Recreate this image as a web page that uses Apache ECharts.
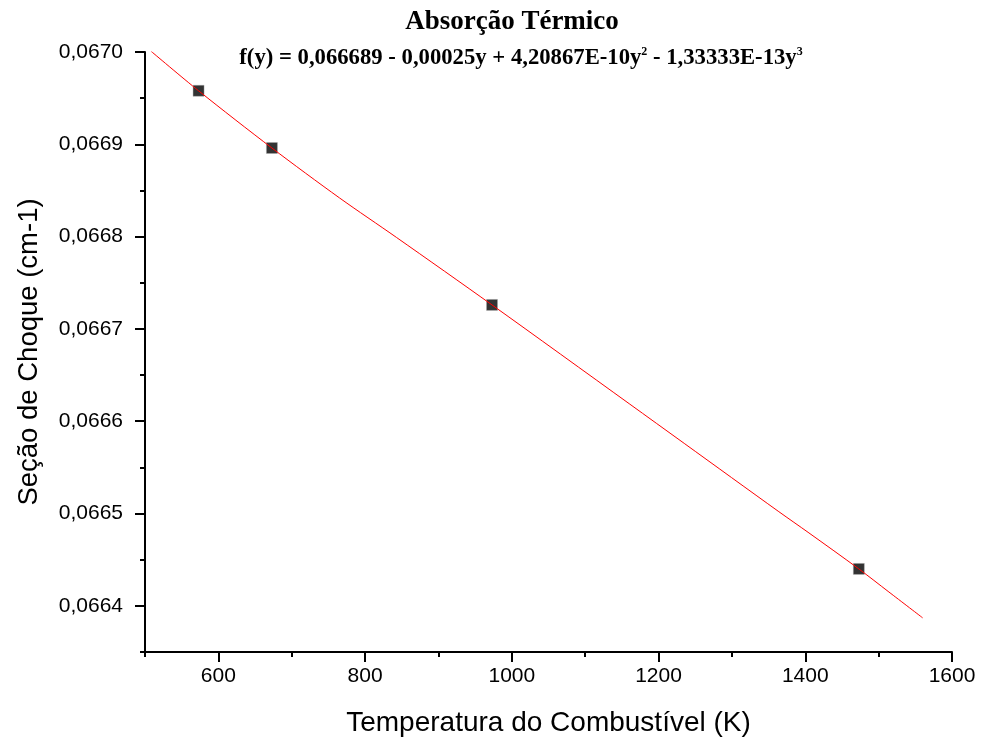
<!DOCTYPE html>
<html>
<head>
<meta charset="utf-8">
<script src="https://cdn.jsdelivr.net/npm/echarts@6/dist/echarts.min.js"></script>
<style>html,body{margin:0;padding:0;background:#fff}#c{width:981px;height:742px}</style>
</head>
<body>
<div id="c"></div>
<script>
// Measured points
var tempPoints = [573, 673, 973, 1473];
var sigmaPoints = [0.066958, 0.066896, 0.066726, 0.066440];
// Fitted curve
var fitTemp = [508, 573, 673, 765, 843, 973, 1160, 1235, 1364, 1405, 1473, 1514, 1560];
var fitSigma = [0.067001, 0.066958, 0.066896, 0.066842, 0.066799, 0.066726, 0.066619, 0.066576, 0.066502, 0.066479, 0.066440, 0.066415, 0.066387];
// Axes
var xMin = 500, xMax = 1600, xMinor = 100, xMajorStart = 600, xMajor = 200;
var yMin = 0.06635, yMax = 0.0670, yMinor = 0.00005, yMajorStart = 0.0664, yMajor = 0.0001;
var titleText = 'Absorção Térmico';
var eqText = 'f(y) = 0,066689 - 0,00025y + 4,20867E-10y{sup|2} - 1,33333E-13y{sup|3}';
var xName = 'Temperatura do Combustível (K)';
var yName = 'Seção de Choque (cm-1)';

var G = {left: 145, right: 29, top: 52, bottom: 90};
var plotW = 981 - G.left - G.right;
var plotH = 742 - G.top - G.bottom;
var g1Bottom = G.bottom + plotH * (yMajorStart - yMin) / (yMax - yMin);
var g2Left = G.left + plotW * (xMajorStart - xMin) / (xMax - xMin);

function pairs(a, b) { return a.map(function (v, i) { return [v, b[i]]; }); }

var sansFont = '"Liberation Sans", Arial, sans-serif';
var serifFont = '"Liberation Serif", "Times New Roman", serif';
var lineStyle = {color: '#000', width: 2};

var chart = echarts.init(document.getElementById('c'), null, {renderer: 'canvas'});
chart.setOption({
  backgroundColor: '#fff',
  animation: false,
  title: [
    {text: titleText, left: 507, top: 4, textAlign: 'center',
     textStyle: {fontFamily: serifFont, fontWeight: 'bold', fontSize: 27, color: '#000'}},
    {text: eqText, left: 516, top: 41, textAlign: 'center',
     textStyle: {fontFamily: serifFont, fontWeight: 'bold', fontSize: 22.7, color: '#000',
       rich: {sup: {fontFamily: serifFont, fontWeight: 'bold', fontSize: 12, verticalAlign: 'top', padding: [0, 0, 12, 0], color: '#000'}}}}
  ],
  grid: [
    {left: G.left, right: G.right, top: G.top, bottom: G.bottom},
    {left: G.left, right: G.right, top: G.top, bottom: g1Bottom},
    {left: g2Left, right: G.right, top: G.top, bottom: G.bottom}
  ],
  xAxis: [
    {type: 'value', gridIndex: 0, min: xMin, max: xMax, interval: xMinor,
     axisLine: {show: true, onZero: false, lineStyle: lineStyle},
     axisTick: {show: true, inside: false, length: 5, lineStyle: lineStyle},
     axisLabel: {show: false}, splitLine: {show: false},
     name: xName, nameLocation: 'middle', nameGap: 57,
     nameTextStyle: {fontFamily: sansFont, fontSize: 28, color: '#000'}},
    {type: 'value', gridIndex: 1, min: 0, max: 1, show: false},
    {type: 'value', gridIndex: 2, min: xMajorStart, max: xMax, interval: xMajor,
     axisLine: {show: false},
     axisTick: {show: true, inside: false, length: 10, lineStyle: lineStyle},
     axisLabel: {show: true, margin: 14, fontFamily: sansFont, fontSize: 21, color: '#000',
       formatter: function (v) { return String(v); }},
     splitLine: {show: false}}
  ],
  yAxis: [
    {type: 'value', gridIndex: 0, min: yMin, max: yMax, interval: yMinor,
     axisLine: {show: true, onZero: false, lineStyle: lineStyle},
     axisTick: {show: true, inside: false, length: 5, lineStyle: lineStyle},
     axisLabel: {show: false}, splitLine: {show: false},
     name: yName, nameLocation: 'middle', nameGap: 102,
     nameTextStyle: {fontFamily: sansFont, fontSize: 27.5, color: '#000'}},
    {type: 'value', gridIndex: 1, min: yMajorStart, max: yMax, interval: yMajor,
     axisLine: {show: false},
     axisTick: {show: true, inside: false, length: 10, lineStyle: lineStyle},
     axisLabel: {show: true, margin: 22, fontFamily: sansFont, fontSize: 21, color: '#000',
       formatter: function (v) { return v.toFixed(4).replace('.', ','); }},
     splitLine: {show: false}},
    {type: 'value', gridIndex: 2, min: 0, max: 1, show: false}
  ],
  series: [
    {type: 'line', xAxisIndex: 0, yAxisIndex: 0, data: pairs(fitTemp, fitSigma),
     smooth: 0.3, showSymbol: false, lineStyle: {color: '#ff0000', width: 1}, z: 3},
    {type: 'scatter', xAxisIndex: 0, yAxisIndex: 0, data: pairs(tempPoints, sigmaPoints),
     symbol: 'rect', symbolSize: 11, itemStyle: {color: '#000', borderColor: '#aaa', borderWidth: 0.5}, z: 2}
  ]
});
</script>
</body>
</html>
